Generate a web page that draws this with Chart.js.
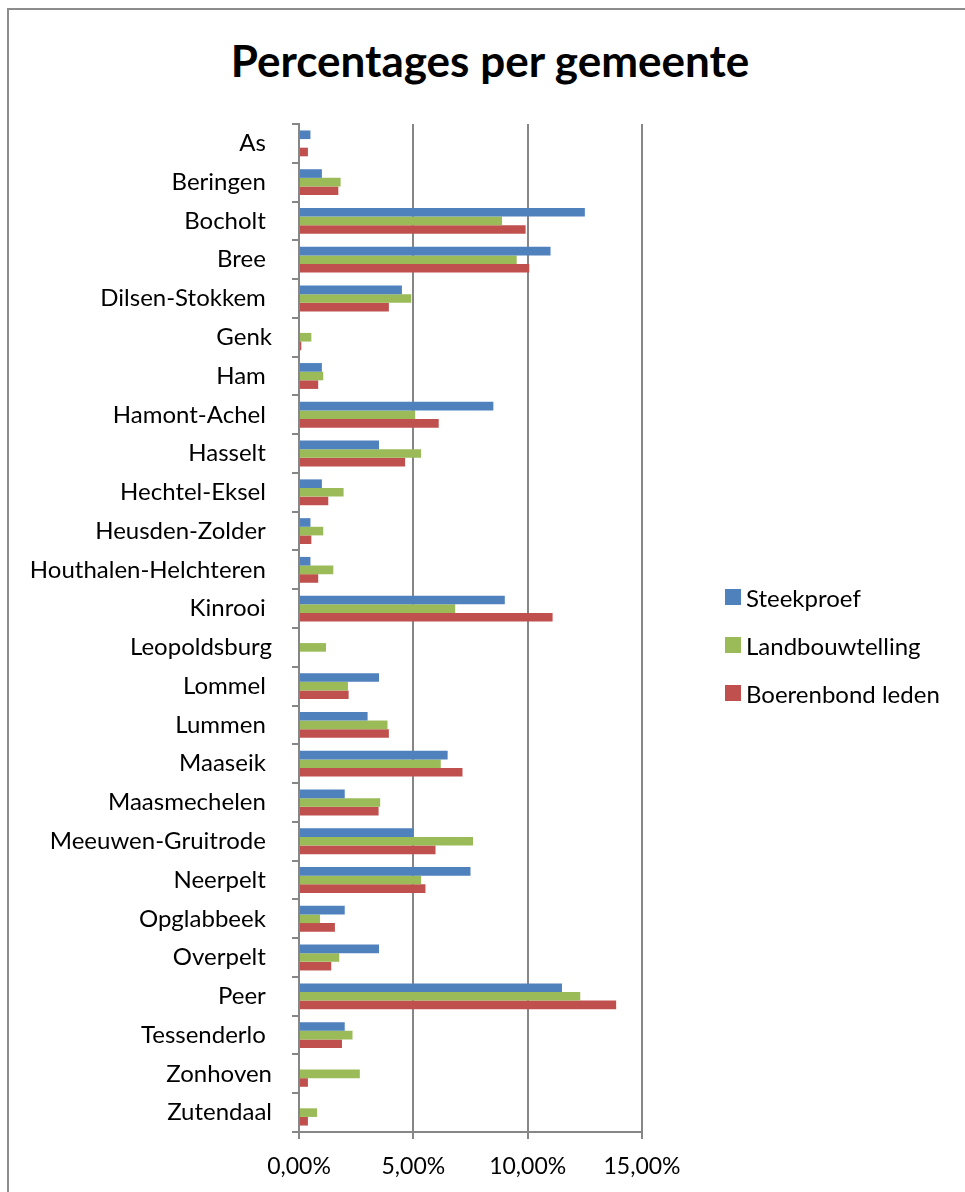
<!DOCTYPE html>
<html lang="nl">
<head>
    <meta charset="UTF-8">
    <title>Percentages per gemeente</title>
    <script src="https://cdn.jsdelivr.net/npm/chart.js"></script>
    <style>
        html, body {
            margin: 0;
            padding: 0;
            background: #fff;
            overflow: hidden;
        }

        /* rand van het grafiekvak (rechts en onder vallen buiten beeld) */
        .frame {
            position: absolute;
            left: 7px;
            top: 8px;
            width: 1000px;
            height: 1250px;
            border-left: 2px solid #8c8c8c;
            border-top: 2px solid #8c8c8c;
        }

        .chart-title {
            position: absolute;
            left: 0;
            top: 34px;
            width: 980px;
            text-align: center;
            font-family: Lato, sans-serif;
            font-weight: bold;
            font-size: 44px;
            line-height: 1.2;
            color: #000;
        }

        .chart-wrap {
            position: absolute;
            left: 0;
            top: 0;
            width: 965px;
            height: 1192px;
        }

        .bar-legend {
            position: absolute;
            left: 725px;
            top: 573px;
            font-family: Lato, sans-serif;
            font-size: 24px;
            color: #000;
        }

        .legend-item {
            display: flex;
            align-items: center;
            height: 48px;
        }

        .legend-color {
            width: 16px;
            height: 16px;
            margin-right: 5px;
        }
    </style>
</head>
<body>
    <div class="frame"></div>
    <div class="chart-title">Percentages per gemeente</div>
    <div class="chart-wrap">
        <canvas id="gemeenteChart" width="965" height="1192"></canvas>
    </div>
    <div class="bar-legend" id="legend"></div>

    <script>
        // Gemeenten (sommige labels hebben een spatie achteraan, zoals in het origineel)
        const gemeenten = [
            'As ', 'Beringen ', 'Bocholt ', 'Bree ', 'Dilsen-Stokkem ', 'Genk', 'Ham ',
            'Hamont-Achel ', 'Hasselt ', 'Hechtel-Eksel ', 'Heusden-Zolder ',
            'Houthalen-Helchteren ', 'Kinrooi ', 'Leopoldsburg', 'Lommel ', 'Lummen ',
            'Maaseik ', 'Maasmechelen ', 'Meeuwen-Gruitrode ', 'Neerpelt ', 'Opglabbeek ',
            'Overpelt ', 'Peer ', 'Tessenderlo ', 'Zonhoven', 'Zutendaal'
        ];

        // Percentages (%)
        const steekproef = [
            0.5, 1, 12.5, 11, 4.5, 0, 1, 8.5, 3.5, 1, 0.5, 0.5, 9,
            0, 3.5, 3, 6.5, 2, 5, 7.5, 2, 3.5, 11.5, 2, 0, 0
        ];
        const landbouwtelling = [
            0, 1.82, 8.88, 9.52, 4.91, 0.54, 1.06, 5.08, 5.34, 1.95, 1.06, 1.5, 6.83,
            1.18, 2.14, 3.87, 6.2, 3.55, 7.61, 5.34, 0.92, 1.76, 12.3, 2.34, 2.66, 0.79
        ];
        const boerenbond = [
            0.39, 1.72, 9.91, 10.07, 3.93, 0.1, 0.84, 6.11, 4.64, 1.28, 0.54, 0.84, 11.09,
            0, 2.17, 3.93, 7.15, 3.48, 5.97, 5.53, 1.57, 1.41, 13.87, 1.88, 0.39, 0.39
        ];

        const reeksen = ['Steekproef', 'Landbouwtelling', 'Boerenbond leden'];
        const kleuren = ['#4f81bd', '#9bbb59', '#c0504d'];
        const xTicks = [0, 5, 10, 15];

        const lettertype = 'Lato, sans-serif';
        const lijnKleur = '#868686';

        // HTML-legende
        const legend = document.getElementById('legend');
        reeksen.forEach((naam, i) => {
            const item = document.createElement('div');
            item.className = 'legend-item';
            item.innerHTML = `<div class="legend-color" style="background-color: ${kleuren[i]};"></div><span>${naam}</span>`;
            legend.appendChild(item);
        });

        const ctx = document.getElementById('gemeenteChart').getContext('2d');
        const chart = new Chart(ctx, {
            type: 'bar',
            data: {
                labels: gemeenten,
                datasets: [steekproef, landbouwtelling, boerenbond].map((waarden, i) => ({
                    label: reeksen[i],
                    data: waarden,
                    backgroundColor: kleuren[i],
                    borderWidth: 0,
                    categoryPercentage: 1 / 1.5,
                    barPercentage: 1
                }))
            },
            options: {
                indexAxis: 'y',
                responsive: false,
                animation: false,
                layout: {
                    padding: { left: 0, right: 323, top: 124, bottom: 0 }
                },
                scales: {
                    x: {
                        min: xTicks[0],
                        max: xTicks[xTicks.length - 1],
                        afterBuildTicks: (scale) => {
                            scale.ticks = xTicks.map(v => ({ value: v }));
                        },
                        afterFit: (scale) => {
                            scale.height = 60;
                        },
                        ticks: {
                            color: '#000',
                            padding: 14,
                            maxRotation: 0,
                            font: { family: lettertype, size: 23 },
                            callback: (v) => v.toFixed(2).replace('.', ',') + '%'
                        },
                        grid: {
                            color: lijnKleur,
                            lineWidth: 2,
                            tickLength: 7
                        },
                        border: { color: lijnKleur, width: 2 }
                    },
                    y: {
                        afterFit: (scale) => {
                            scale.width = 299;
                        },
                        ticks: {
                            color: '#000',
                            padding: 20,
                            autoSkip: false,
                            font: { family: lettertype, size: 24 }
                        },
                        grid: {
                            offset: true,
                            drawOnChartArea: false,
                            color: lijnKleur,
                            lineWidth: 2,
                            tickLength: 7
                        },
                        border: { color: lijnKleur, width: 2 }
                    }
                },
                plugins: {
                    legend: { display: false },
                    tooltip: { enabled: false },
                    title: { display: false }
                }
            }
        });
    </script>
</body>
</html>
